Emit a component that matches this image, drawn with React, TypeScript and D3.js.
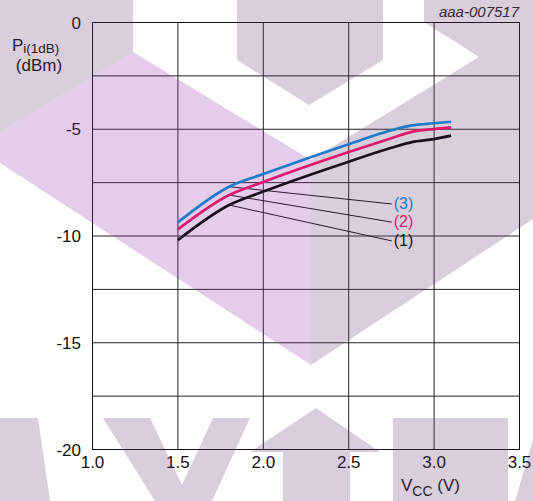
import React from "react";
import * as d3 from "d3";

// ---- data ----
const vcc = [1.5, 1.8, 2.0, 2.5, 2.75, 2.87, 3.0, 3.1];
const curve1 = [-10.19, -8.55, -7.92, -6.52, -5.87, -5.6, -5.46, -5.3];
const curve2 = [-9.69, -8.08, -7.47, -6.07, -5.42, -5.12, -4.99, -4.91];
const curve3 = [-9.36, -7.69, -7.1, -5.7, -5.05, -4.82, -4.72, -4.65];
const curveNames = ["(1)", "(2)", "(3)"];
const curveColors = ["#1c0e21", "#e0186e", "#1f7ac8"];
const xTicks = [1.0, 1.5, 2.0, 2.5, 3.0, 3.5];
const yTicks = [0, -5, -10, -15, -20];
const yGrid = [-2.5, -5, -7.5, -10, -12.5, -15, -17.5];
const xGrid = [1.5, 2.0, 2.5, 3.0];
// callout: from the point at V=1.8 to label anchor (data units)
const calloutFromV = 1.8;
const labelV = 2.752;
const labelP = [-10.23, -9.35, -8.5];

// decorative background watermark (pixel polygons)
const wmGray: [number, number][][] = [
  [[0, 0], [133, 0], [133, 52], [0, 132]],
  [[237, 0], [383, 0], [383, 60], [309, 105], [237, 60]],
  [[311, 160], [479, 57], [424, 22], [424, 0], [533, 0], [533, 219], [311, 365]],
  [[0, 418], [38, 418], [50, 501], [0, 501]],
  [[103, 418], [150, 418], [182, 485], [213, 418], [250, 418], [212, 501], [155, 501]],
  [[316, 408], [380, 452], [350, 452], [350, 501], [283, 501], [283, 452], [250, 452]],
  [[393, 418], [508, 418], [508, 501], [393, 501]],
  [[533, 440], [533, 501], [515, 501]],
];
const wmLilac: [number, number][][] = [
  [[0, 132], [133, 52], [311, 160], [311, 365], [0, 163]],
];

const W = 533;
const H = 501;
const FONT = "'Liberation Sans', Arial, Helvetica, sans-serif";

export default function App() {
  const x = d3.scaleLinear().domain([1, 3.5]).range([92.5, 519.5]);
  const y = d3.scaleLinear().domain([-20, 0]).range([449.5, 22.5]);
  const series = [curve1, curve2, curve3];
  const line = d3
    .line<number>()
    .x((_, i) => x(vcc[i]))
    .y((d) => y(d))
    .curve(d3.curveMonotoneX);
  const poly = (pts: [number, number][]) => "M" + pts.map((p) => p.join(",")).join("L") + "Z";
  const ci = vcc.indexOf(calloutFromV);

  return (
    <svg
      width={W}
      height={H}
      style={{ position: "absolute", left: 0, top: 0, background: "#fff" }}
      fontFamily={FONT}
    >
      <rect x={0} y={0} width={W} height={H} fill="#fff" />
      {/* grid */}
      {xGrid.map((v) => (
        <line key={"gx" + v} x1={x(v)} x2={x(v)} y1={y(0)} y2={y(-20)} stroke="#222" strokeWidth={1} />
      ))}
      {yGrid.map((v) => (
        <line key={"gy" + v} x1={x(1)} x2={x(3.5)} y1={y(v)} y2={y(v)} stroke="#222" strokeWidth={1} />
      ))}
      <rect x={x(1)} y={y(0)} width={x(3.5) - x(1)} height={y(-20) - y(0)} fill="none" stroke="#111" strokeWidth={1} />

      {/* callouts */}
      {series.map((s, k) => (
        <line
          key={"c" + k}
          x1={x(calloutFromV)}
          y1={y(s[ci])}
          x2={x(labelV)}
          y2={y(labelP[k])}
          stroke="#111"
          strokeWidth={1}
        />
      ))}

      {/* ticks */}
      {yTicks.map((v) => (
        <text key={"yt" + v} x={81} y={y(v) + 6} fontSize={17} textAnchor="end" fill="#111">
          {v}
        </text>
      ))}
      {xTicks.map((v) => (
        <text key={"xt" + v} x={x(v)} y={467.5} fontSize={17} textAnchor="middle" fill="#111">
          {v.toFixed(1)}
        </text>
      ))}

      {/* axis titles */}
      <text x={12} y={51} fontSize={17} fill="#111">
        P<tspan fontSize={13.5} dy={1.5}>i(1dB)</tspan>
      </text>
      <text x={39} y={71} fontSize={17} textAnchor="middle" fill="#111">
        (dBm)
      </text>
      <text x={401} y={490.5} fontSize={17} fill="#111">
        V<tspan fontSize={14} dy={5}>CC</tspan>
        <tspan dy={-5}> (V)</tspan>
      </text>
      <text x={519} y={17} fontSize={15} fontStyle="italic" textAnchor="end" fill="#222">
        aaa-007517
      </text>

      {/* watermark overlay */}
      <g pointerEvents="none">
        {wmLilac.map((p, i) => (
          <path key={"wl" + i} d={poly(p)} fill="rgb(147,51,171)" fillOpacity={0.25} />
        ))}
        {wmGray.map((p, i) => (
          <path key={"wg" + i} d={poly(p)} fill="rgb(105,60,115)" fillOpacity={0.25} />
        ))}
      </g>

      {/* curves on top */}
      {series.map((s, k) => (
        <path key={"s" + k} d={line(s) || ""} fill="none" stroke={curveColors[k]} strokeWidth={2.7} strokeLinejoin="round" />
      ))}
      {series.map((s, k) => (
        <text key={"l" + k} x={x(labelV) + 2} y={y(labelP[k]) + 5} fontSize={16} fill={curveColors[k]}>
          {curveNames[k]}
        </text>
      ))}
    </svg>
  );
}
